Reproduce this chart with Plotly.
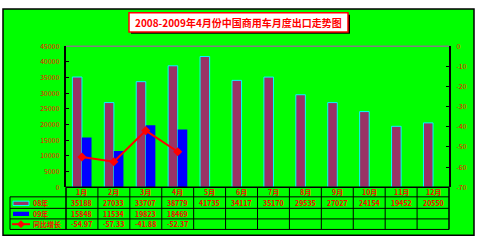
import plotly.graph_objects as go

months = ["1月", "2月", "3月", "4月", "5月", "6月", "7月", "8月", "9月", "10月", "11月", "12月"]
sales_08 = [35188, 27033, 33707, 38779, 41735, 34117, 35170, 29535, 27027, 24154, 19452, 20550]
sales_09 = [15848, 11534, 19823, 18469]
growth = [-54.97, -57.33, -41.88, -52.37]
left_ticks = [0, 5000, 10000, 15000, 20000, 25000, 30000, 35000, 40000, 45000]
right_ticks = [0, -10, -20, -30, -40, -50, -60, -70]
title = "2008-2009年4月份中国商用车月度出口走势图"

W, H = 480, 244
def px(x): return x / W
def py(y): return 1 - y / H

RED = "#FF0000"
FONT = "Noto Sans CJK SC"
idx = list(range(12))

fig = go.Figure()
fig.add_trace(go.Bar(x=idx, y=sales_08, width=0.3, offset=-0.3,
                     marker=dict(color="#993366", line=dict(color="#00FFFF", width=1)),
                     showlegend=False))
fig.add_trace(go.Bar(x=idx[:len(sales_09)], y=sales_09, width=0.3, offset=0.0,
                     marker=dict(color="#0000FF", line=dict(width=0)),
                     showlegend=False))
fig.add_trace(go.Scatter(x=idx[:len(growth)], y=growth, yaxis="y2", mode="lines+markers",
                         line=dict(color=RED, width=2),
                         marker=dict(symbol="diamond", size=7, color=RED),
                         showlegend=False))

x0, x1 = 66, 449
ytop, ybot = 42, 189
tickfont = dict(family=FONT, size=7, color=RED)

fig.update_layout(
    width=W, height=H, margin=dict(l=0, r=0, t=0, b=0),
    paper_bgcolor="white", plot_bgcolor="rgba(0,0,0,0)",
    barmode="overlay",
    xaxis=dict(domain=[px(x0), px(x1)], range=[-0.5, 11.5], showticklabels=False,
               showgrid=False, zeroline=False, showline=False, fixedrange=True),
    yaxis=dict(domain=[py(ybot), py(ytop)], range=[0, 45000], tickvals=left_ticks,
               ticktext=[str(v) for v in left_ticks], tickfont=tickfont,
               ticks="inside", ticklen=3, tickcolor="black", showgrid=False, zeroline=False,
               showline=True, linecolor="black", linewidth=2, ticklabelstandoff=3),
    yaxis2=dict(overlaying="y", side="right", range=[-70, 0], tickvals=right_ticks,
                ticktext=[str(v) for v in right_ticks], tickfont=tickfont,
                ticks="inside", ticklen=3, tickcolor="black", showgrid=False, zeroline=False,
                showline=True, linecolor="black", linewidth=2, ticklabelstandoff=4,
                anchor="x"),
)

shapes = []
# outer green panel
shapes.append(dict(type="rect", xref="paper", yref="paper", x0=px(3), x1=px(474), y0=py(239), y1=py(3),
                   fillcolor="#00FF00", line=dict(color="black", width=1.5), layer="below"))
# title box shadow and box
shapes.append(dict(type="rect", xref="paper", yref="paper", x0=px(131), x1=px(350), y0=py(29), y1=py(9),
                   fillcolor="black", line=dict(width=0), layer="below"))
shapes.append(dict(type="rect", xref="paper", yref="paper", x0=px(129), x1=px(348), y0=py(27), y1=py(7),
                   fillcolor="white", line=dict(color=RED, width=1.5), layer="below"))
# top gray plot border
shapes.append(dict(type="line", xref="paper", yref="paper", x0=px(x0), x1=px(x1), y0=py(ytop), y1=py(ytop),
                   line=dict(color="#808080", width=1.5)))

# table grid
row_lines = [189, 199, 211, 222, 233]
for i, yy in enumerate(row_lines):
    xs = x0 if i == 0 else 10
    shapes.append(dict(type="line", xref="paper", yref="paper", x0=px(xs), x1=px(x1), y0=py(yy), y1=py(yy),
                       line=dict(color="black", width=1.5 if i == 0 else 1)))
colw = (x1 - x0) / 12
for k in range(13):
    xx = x0 + k * colw
    shapes.append(dict(type="line", xref="paper", yref="paper", x0=px(xx), x1=px(xx), y0=py(189), y1=py(233),
                       line=dict(color="black", width=1.5 if k in (0, 12) else 1)))
shapes.append(dict(type="line", xref="paper", yref="paper", x0=px(10), x1=px(10), y0=py(199), y1=py(233),
                   line=dict(color="black", width=1)))
# legend swatches
shapes.append(dict(type="rect", xref="paper", yref="paper", x0=px(13), x1=px(29), y0=py(208), y1=py(203.5),
                   fillcolor="#993366", line=dict(color="#00FFFF", width=1)))
shapes.append(dict(type="rect", xref="paper", yref="paper", x0=px(13), x1=px(29), y0=py(219), y1=py(214.5),
                   fillcolor="#0000FF", line=dict(width=0)))
shapes.append(dict(type="line", xref="paper", yref="paper", x0=px(12), x1=px(30), y0=py(227.5), y1=py(227.5),
                   line=dict(color=RED, width=2)))
fig.update_layout(shapes=shapes)

fig.add_trace(go.Scatter(x=[px(21)], y=[py(227.5)], xaxis="x3", yaxis="y3", mode="markers",
                         marker=dict(symbol="diamond", size=6, color=RED), showlegend=False,
                         hoverinfo="skip"))
fig.update_layout(xaxis3=dict(domain=[0, 1], range=[0, 1], visible=False, fixedrange=True),
                  yaxis3=dict(domain=[0, 1], range=[0, 1], visible=False, fixedrange=True, anchor="x3"))

ann = []
ann.append(dict(text="<b>" + title + "</b>", x=px(238.5), y=py(17), xref="paper", yref="paper",
                showarrow=False, font=dict(family=FONT, size=10, color=RED), xanchor="center", yanchor="middle"))
cellfont = dict(family=FONT, size=7, color=RED)
row_centers = [194, 205, 216.5, 227.5]
for k, m in enumerate(months):
    cx = x0 + (k + 0.5) * colw
    ann.append(dict(text="<b>" + m + "</b>", x=px(cx), y=py(row_centers[0]), xref="paper", yref="paper",
                    showarrow=False, font=cellfont, xanchor="center", yanchor="middle"))
    ann.append(dict(text="<b>" + str(sales_08[k]) + "</b>", x=px(cx), y=py(row_centers[1]), xref="paper",
                    yref="paper", showarrow=False, font=cellfont, xanchor="center", yanchor="middle"))
    if k < len(sales_09):
        ann.append(dict(text="<b>" + str(sales_09[k]) + "</b>", x=px(cx), y=py(row_centers[2]), xref="paper",
                        yref="paper", showarrow=False, font=cellfont, xanchor="center", yanchor="middle"))
    if k < len(growth):
        ann.append(dict(text="<b>" + "%.2f" % growth[k] + "</b>", x=px(cx), y=py(row_centers[3]), xref="paper",
                        yref="paper", showarrow=False, font=cellfont, xanchor="center", yanchor="middle"))
for lbl, yy in zip(["08年", "09年", "同比增长"], row_centers[1:]):
    ann.append(dict(text="<b>" + lbl + "</b>", x=px(31), y=py(yy), xref="paper", yref="paper",
                    showarrow=False, font=cellfont, xanchor="left", yanchor="middle"))
fig.update_layout(annotations=ann)

fig.write_html("out.html")
